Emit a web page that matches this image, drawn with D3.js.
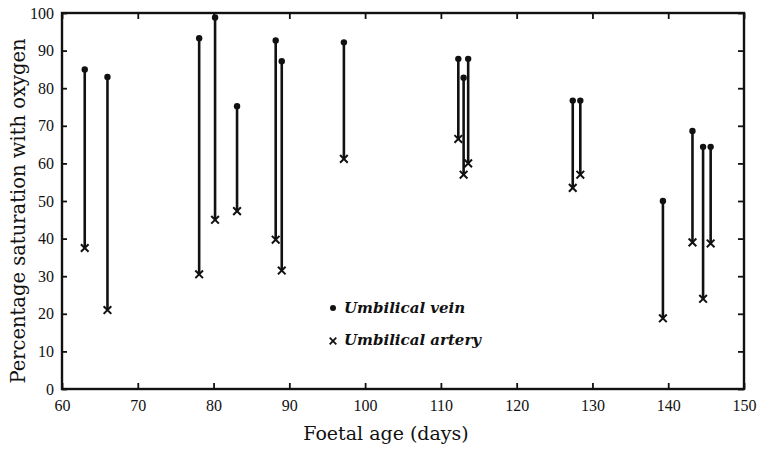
<!DOCTYPE html>
<html>
<head>
<meta charset="utf-8">
<script src="https://cdn.jsdelivr.net/npm/d3@7"></script>
<style>
  body { margin: 0; background: #fff; }
</style>
</head>
<body>
<script>
// foetal age (days) and % O2 saturation, one entry per foetus
let age = [63, 66, 78.1, 80.2, 83.1, 88.2, 89, 97.2, 112.3, 113, 113.6, 127.4, 128.4, 139.3, 143.2, 144.6, 145.6];
let vein = [85, 83, 93.3, 98.8, 75.2, 92.7, 87.2, 92.2, 87.8, 82.8, 87.8, 76.7, 76.7, 50, 68.6, 64.4, 64.4];
let artery = [37.5, 21, 30.5, 45, 47.3, 39.7, 31.5, 61.2, 66.5, 57, 60, 53.5, 57, 18.8, 39, 24, 38.7];
let xTicks = [60, 70, 80, 90, 100, 110, 120, 130, 140, 150];
let yTicks = [0, 10, 20, 30, 40, 50, 60, 70, 80, 90, 100];

let serif = "'DejaVu Serif', 'Liberation Serif', serif";
let tickFont = "'Liberation Serif', 'DejaVu Serif', serif";

function graficar() {
  let w = 759;
  let h = 451;
  let svg = d3.select("body").append("svg").attr("width", w).attr("height", h)
    .attr("font-family", serif);

  let x = d3.scaleLinear().domain([60, 150]).range([62, 744]);
  let y = d3.scaleLinear().domain([0, 100]).range([389, 13]);

  // frame
  svg.append("rect")
    .attr("x", x(60)).attr("y", y(100))
    .attr("width", x(150) - x(60)).attr("height", y(0) - y(100))
    .attr("fill", "none").attr("stroke", "#111").attr("stroke-width", 2.4);

  // axes with inward ticks
  let bottom = svg.append("g").attr("transform", "translate(0," + y(0) + ")")
    .call(d3.axisBottom(x).tickValues(xTicks).tickSizeInner(-6).tickSizeOuter(0).tickPadding(11));
  let left = svg.append("g").attr("transform", "translate(" + x(60) + ",0)")
    .call(d3.axisLeft(y).tickValues(yTicks).tickSizeInner(-5).tickSizeOuter(0).tickPadding(8));
  let top = svg.append("g").attr("transform", "translate(0," + y(100) + ")")
    .call(d3.axisTop(x).tickValues(xTicks).tickSizeInner(-6).tickSizeOuter(0).tickFormat(""));
  let right = svg.append("g").attr("transform", "translate(" + x(150) + ",0)")
    .call(d3.axisRight(y).tickValues(yTicks).tickSizeInner(-6).tickSizeOuter(0).tickFormat(""));

  [bottom, left, top, right].forEach(function (g) {
    g.attr("font-family", tickFont);
    g.select(".domain").remove();
    g.selectAll(".tick line").attr("stroke", "#111").attr("stroke-width", 1.8);
    g.selectAll("text")
      .style("font-family", tickFont)
      .style("font-size", "16px")
      .attr("fill", "#111");
  });

  // vertical links vein -> artery
  svg.selectAll("line.link")
    .data(age)
    .enter()
    .append("line")
    .attr("class", "link")
    .attr("x1", function (d) { return x(d); })
    .attr("x2", function (d) { return x(d); })
    .attr("y1", function (d, i) { return y(vein[i]); })
    .attr("y2", function (d, i) { return y(artery[i]); })
    .attr("stroke", "#111")
    .attr("stroke-width", 2.6);

  // vein dots
  svg.selectAll("circle.vein")
    .data(age)
    .enter()
    .append("circle")
    .attr("class", "vein")
    .attr("cx", function (d) { return x(d); })
    .attr("cy", function (d, i) { return y(vein[i]); })
    .attr("r", 3.2)
    .attr("fill", "#111");

  // artery crosses
  let cross = d3.symbol().type(d3.symbolX).size(40);
  svg.selectAll("path.artery")
    .data(age)
    .enter()
    .append("path")
    .attr("class", "artery")
    .attr("d", cross)
    .attr("transform", function (d, i) { return "translate(" + x(d) + "," + y(artery[i]) + ")"; })
    .attr("fill", "none")
    .attr("stroke", "#111")
    .attr("stroke-width", 2);

  // legend
  svg.append("circle").attr("cx", 333).attr("cy", 308).attr("r", 3).attr("fill", "#111");
  svg.append("path").attr("d", d3.symbol().type(d3.symbolX).size(30))
    .attr("transform", "translate(333,341)")
    .attr("fill", "none").attr("stroke", "#111").attr("stroke-width", 1.8);
  svg.append("text").attr("x", 344).attr("y", 313)
    .style("font-family", serif)
    .style("font-size", "15px").style("font-style", "italic").style("font-weight", "bold")
    .attr("fill", "#111")
    .text("Umbilical vein");
  svg.append("text").attr("x", 344).attr("y", 345)
    .style("font-family", serif)
    .style("font-size", "15px").style("font-style", "italic").style("font-weight", "bold")
    .attr("fill", "#111")
    .text("Umbilical artery");

  // axis titles
  svg.append("text")
    .attr("x", 386).attr("y", 440)
    .attr("text-anchor", "middle")
    .style("font-family", serif)
    .style("font-size", "19px")
    .attr("fill", "#111")
    .text("Foetal age (days)");
  svg.append("text")
    .attr("transform", "translate(25,211) rotate(-90)")
    .attr("text-anchor", "middle")
    .style("font-family", serif)
    .style("font-size", "19.5px")
    .attr("fill", "#111")
    .text("Percentage saturation with oxygen");
}

graficar();
</script>
</body>
</html>
